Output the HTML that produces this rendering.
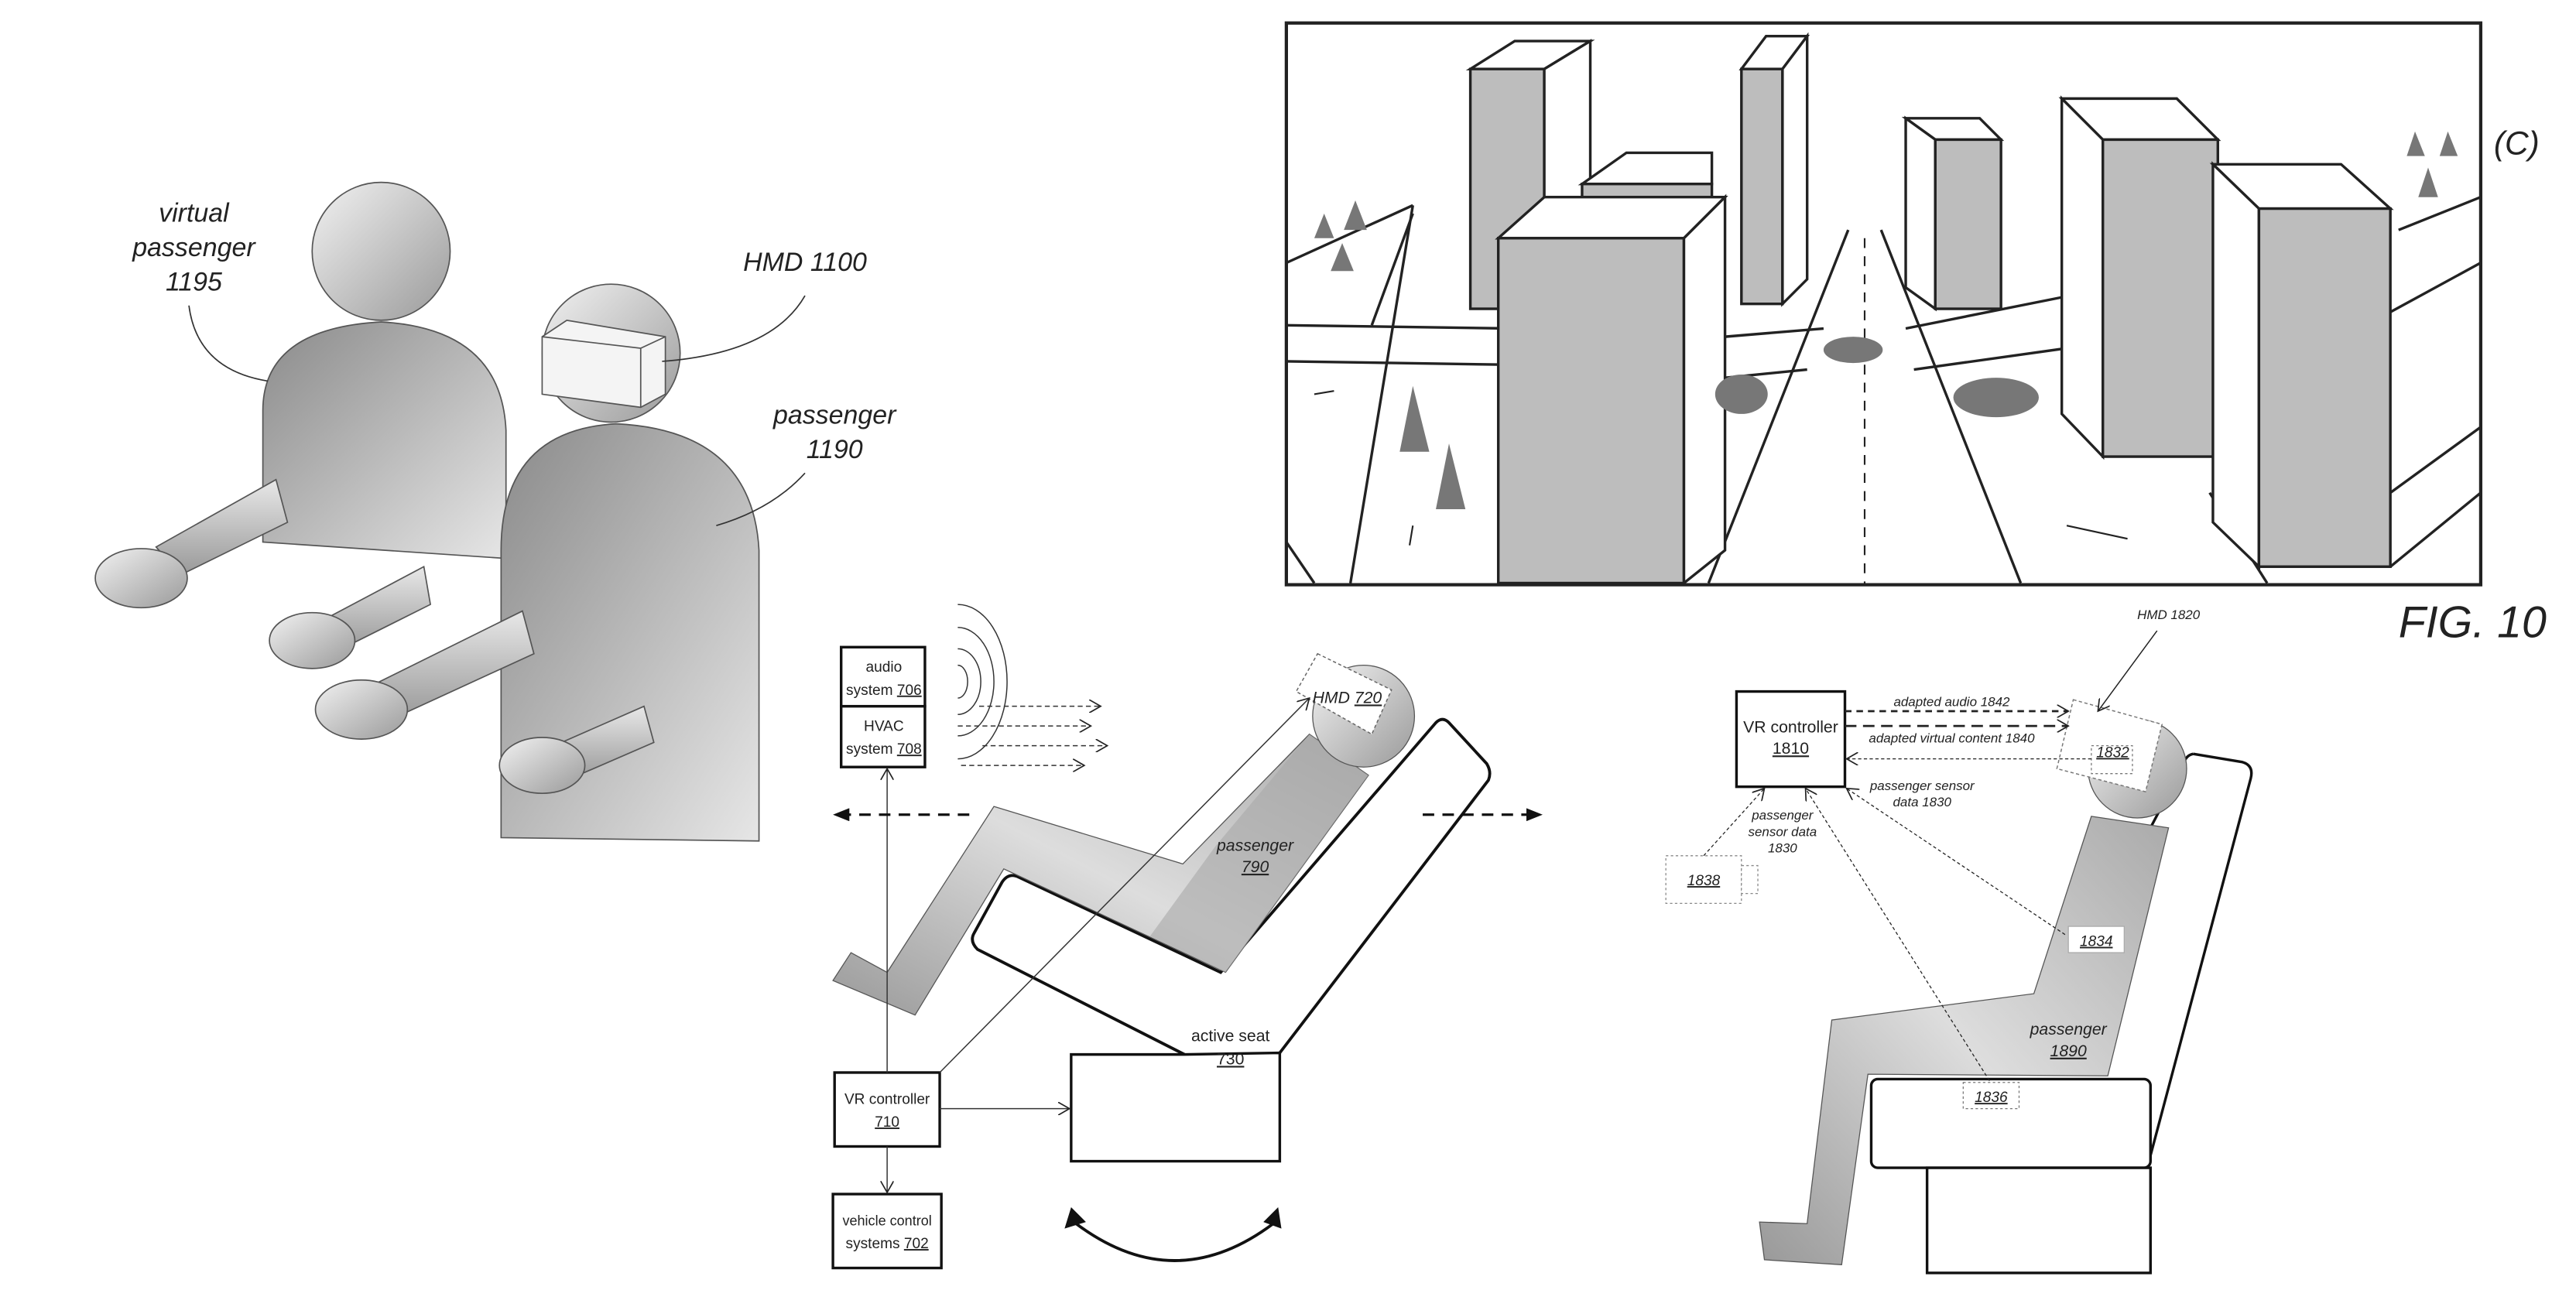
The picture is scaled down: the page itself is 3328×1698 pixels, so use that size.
<!DOCTYPE html>
<html><head><meta charset="utf-8"><style>
html,body{margin:0;padding:0;background:#fff;}
svg{display:block;}
text{font-family:"Liberation Sans",sans-serif;fill:#222;}
.it{font-style:italic;}
</style></head><body>
<svg width="3328" height="1698" viewBox="0 0 1568 800" xmlns="http://www.w3.org/2000/svg">
<defs>
<linearGradient id="gb" x1="0" y1="0" x2="1" y2="1"><stop offset="0" stop-color="#8a8a8a"/><stop offset="1" stop-color="#e6e6e6"/></linearGradient>
<linearGradient id="gh" x1="0" y1="0" x2="1" y2="1"><stop offset="0" stop-color="#f2f2f2"/><stop offset="1" stop-color="#9a9a9a"/></linearGradient>
<linearGradient id="ga" x1="0" y1="0" x2="0" y2="1"><stop offset="0" stop-color="#e8e8e8"/><stop offset="1" stop-color="#999"/></linearGradient>
<linearGradient id="gp" x1="0" y1="1" x2="1" y2="0"><stop offset="0" stop-color="#999"/><stop offset="0.5" stop-color="#ddd"/><stop offset="1" stop-color="#aaa"/></linearGradient>
<marker id="ao" markerWidth="8" markerHeight="8" refX="7" refY="4" orient="auto" markerUnits="userSpaceOnUse"><path d="M0,0 L7,4 L0,8" fill="none" stroke="#222" stroke-width="0.8"/></marker>
<marker id="af" markerWidth="10" markerHeight="8" refX="9" refY="4" orient="auto" markerUnits="userSpaceOnUse"><path d="M0,0 L10,4 L0,8z" fill="#111"/></marker>
</defs>

<!-- LEFT FIGURE -->
<g stroke="#555" stroke-width="0.8">
<path d="M160,330 L160,250 Q160,200 232,196 Q305,200 308,262 L308,340 Z" fill="url(#gb)"/>
<circle cx="232" cy="153" r="42" fill="url(#gh)"/>
<path d="M168,292 L95,333 L110,350 L175,318 Z" fill="url(#ga)"/>
<ellipse cx="86" cy="352" rx="28" ry="18" fill="url(#gh)"/>
<path d="M258,345 L192,380 L206,396 L262,368 Z" fill="url(#ga)"/>
<ellipse cx="190" cy="390" rx="26" ry="17" fill="url(#gh)"/>
<path d="M305,510 L305,335 Q305,262 375,258 Q458,262 462,335 L462,512 Z" fill="url(#gb)"/>
<circle cx="372" cy="215" r="42" fill="url(#gh)"/>
<path d="M330,205 L345,195 L405,205 L405,240 L390,248 L330,240 Z" fill="#f4f4f4"/>
<path d="M330,205 L390,212 L390,248 M390,212 L405,205" fill="none"/>
<path d="M318,372 L225,418 L238,438 L325,398 Z" fill="url(#ga)"/>
<ellipse cx="220" cy="432" rx="28" ry="18" fill="url(#gh)"/>
<path d="M392,430 L335,455 L345,475 L398,452 Z" fill="url(#ga)"/>
<ellipse cx="330" cy="466" rx="26" ry="17" fill="url(#gh)"/>
</g>
<g class="it" font-size="16" text-anchor="middle">
<text x="118" y="135">virtual</text><text x="118" y="156">passenger</text><text x="118" y="177">1195</text>
<text x="490" y="165">HMD 1100</text>
<text x="508" y="258">passenger</text><text x="508" y="279">1190</text>
</g>
<g fill="none" stroke="#333" stroke-width="0.8">
<path d="M115,186 Q120,225 163,232"/>
<path d="M490,180 Q470,215 403,220"/>
<path d="M490,288 Q470,310 436,320"/>
</g>

<!-- CITY -->
<rect x="783" y="14" width="727" height="342" fill="#fff" stroke="#222" stroke-width="2"/>
<g stroke="#222" stroke-width="1.6" fill="none">
<path d="M1040,355 L1125,140"/><path d="M1230,355 L1145,140"/>
<path d="M1135,145 L1135,355" stroke-dasharray="6,5" stroke-width="1"/>
<path d="M822,355 L860,125"/><path d="M783,160 L860,125"/><path d="M835,198 L860,130"/>
<path d="M783,198 L920,200"/><path d="M783,220 L915,222"/><path d="M1050,205 L1110,200"/><path d="M1050,230 L1100,225"/>
<path d="M800,355 L783,330"/>
<path d="M1160,200 L1260,180"/><path d="M1165,225 L1258,212"/>
<path d="M1455,190 L1510,160"/><path d="M1460,140 L1510,120"/>
<path d="M1510,260 L1455,300"/><path d="M1455,345 L1510,300"/>
<path d="M1345,300 L1380,355"/>
<path d="M1258,320 L1295,328" stroke-width="1"/><path d="M860,320 L858,332" stroke-width="1"/><path d="M800,240 L812,238" stroke-width="1"/>
</g>
<g stroke="#222" stroke-width="1.6">
<path d="M895,42 L922,25 L968,25 L940,42 Z" fill="#fff"/><rect x="895" y="42" width="45" height="146" fill="#bdbdbd"/><path d="M940,42 L968,25 L968,170 L940,188 Z" fill="#fff"/>
<path d="M1060,42 L1075,22 L1100,22 L1085,42 Z" fill="#fff"/><rect x="1060" y="42" width="25" height="143" fill="#bdbdbd"/><path d="M1085,42 L1100,22 L1100,170 L1085,185 Z" fill="#fff"/>
<path d="M963,112 L990,93 L1042,93 L1042,112 Z" fill="#fff"/><rect x="963" y="112" width="79" height="40" fill="#bdbdbd"/>
<path d="M912,145 L940,120 L1050,120 L1025,145 Z" fill="#fff"/><rect x="912" y="145" width="113" height="210" fill="#bdbdbd"/><path d="M1025,145 L1050,120 L1050,335 L1025,355 Z" fill="#fff"/>
<path d="M1160,72 L1205,72 L1218,85 L1178,85 Z" fill="#fff"/><path d="M1160,72 L1178,85 L1178,188 L1160,175 Z" fill="#fff"/><rect x="1178" y="85" width="40" height="103" fill="#bdbdbd"/>
<path d="M1255,60 L1325,60 L1350,85 L1280,85 Z" fill="#fff"/><path d="M1255,60 L1280,85 L1280,278 L1255,252 Z" fill="#fff"/><rect x="1280" y="85" width="70" height="193" fill="#bdbdbd"/>
<path d="M1347,100 L1425,100 L1455,127 L1375,127 Z" fill="#fff"/><path d="M1347,100 L1375,127 L1375,345 L1347,318 Z" fill="#fff"/><rect x="1375" y="127" width="80" height="218" fill="#bdbdbd"/>
</g>
<g fill="#777">
<path d="M800,145 L806,130 L812,145Z"/><path d="M818,140 L825,122 L832,140Z"/><path d="M810,165 L817,148 L824,165Z"/>
<path d="M852,275 L860,235 L870,275Z"/><path d="M874,310 L882,270 L892,310Z"/>
<ellipse cx="1128" cy="213" rx="18" ry="8"/><ellipse cx="1060" cy="240" rx="16" ry="12"/><ellipse cx="1215" cy="242" rx="26" ry="12"/>
<path d="M1465,95 L1470,80 L1476,95Z"/><path d="M1485,95 L1490,80 L1496,95Z"/><path d="M1472,120 L1478,102 L1484,120Z"/>
</g>
<text x="1518" y="94" class="it" font-size="20">(C)</text>
<text x="1460" y="388" class="it" font-size="27">FIG. 10</text>

<!-- MIDDLE DIAGRAM -->
<path d="M721,642 L595,578 Q590,573 593,568 L610,537 Q614,531 620,534 L743,592 L874,440 Q878,436 882,440 L905,465 Q908,470 906,475 L779,641" fill="none" stroke="#111" stroke-width="1.8"/>
<path d="M507,597 L518,580 L540,592 L605,491 L720,526 L797,447 L833,472 L746,592 L611,529 L557,618 Z" fill="url(#gp)" stroke="#555" stroke-width="0.6"/>
<path d="M797,447 L833,472 L746,592 L700,570 L740,515 Z" fill="#a8a8a8" opacity="0.6"/>
<circle cx="830" cy="436" r="31" fill="url(#gh)" stroke="#555" stroke-width="0.6"/>
<path d="M802,398 L847,420 L835,447 L789,421 Z" fill="#fff" stroke="#666" stroke-width="0.7" stroke-dasharray="2,1.5"/>
<text x="820" y="428" class="it" font-size="10" text-anchor="middle">HMD <tspan text-decoration="underline">720</tspan></text>
<text x="764" y="518" class="it" font-size="10" text-anchor="middle">passenger</text>
<text x="764" y="531" class="it" font-size="10" text-anchor="middle" text-decoration="underline">790</text>
<path d="M652,642 L721,642 L779,641 L779,707 L652,707 Z" fill="#fff" stroke="#111" stroke-width="1.6"/>
<text x="749" y="634" font-size="10" text-anchor="middle">active seat</text>
<text x="749" y="648" font-size="10" text-anchor="middle" text-decoration="underline">730</text>
<g fill="#fff" stroke="#111" stroke-width="1.6">
<rect x="512" y="394" width="51" height="36"/><rect x="512" y="430" width="51" height="37"/>
<rect x="508" y="653" width="64" height="45"/><rect x="507" y="727" width="66" height="45"/>
</g>
<g font-size="9" text-anchor="middle">
<text x="538" y="409">audio</text><text x="538" y="423">system <tspan text-decoration="underline">706</tspan></text>
<text x="538" y="445">HVAC</text><text x="538" y="459">system <tspan text-decoration="underline">708</tspan></text>
<text x="540" y="672">VR controller</text><text x="540" y="686" text-decoration="underline">710</text>
<text x="540" y="746" font-size="8.5">vehicle control</text><text x="540" y="760">systems <tspan text-decoration="underline">702</tspan></text>
</g>
<g fill="none" stroke="#333" stroke-width="0.7">
<path d="M583,405 A6,10 0 0 1 583,425"/><path d="M583,395 A14,20 0 0 1 583,435"/><path d="M583,382 A22,33 0 0 1 583,448"/><path d="M583,368 A30,47 0 0 1 583,462"/>
<line x1="540" y1="653" x2="540" y2="468" marker-end="url(#ao)"/>
<line x1="540" y1="698" x2="540" y2="726" marker-end="url(#ao)"/>
<line x1="572" y1="675" x2="651" y2="675" marker-end="url(#ao)"/>
<line x1="572" y1="653" x2="797" y2="425" marker-end="url(#ao)"/>
<g stroke-dasharray="3,2"><line x1="596" y1="430" x2="670" y2="430" marker-end="url(#ao)"/><line x1="583" y1="442" x2="664" y2="442" marker-end="url(#ao)"/><line x1="598" y1="454" x2="674" y2="454" marker-end="url(#ao)"/><line x1="585" y1="466" x2="660" y2="466" marker-end="url(#ao)"/></g>
</g>
<g stroke="#111" stroke-width="1.5" stroke-dasharray="7,5" fill="none">
<line x1="590" y1="496" x2="508" y2="496" marker-end="url(#af)"/>
<line x1="866" y1="496" x2="938" y2="496" marker-end="url(#af)"/>
</g>
<path d="M655,745 Q715,790 775,745" fill="none" stroke="#111" stroke-width="1.8"/>
<path d="M648,748 L652,735 L661,744Z M780,748 L778,735 L769,744Z" fill="#111"/>

<!-- RIGHT DIAGRAM -->
<path d="M1335,459 L1365,464 Q1372,466 1370,474 L1307,711" fill="none" stroke="#111" stroke-width="1.6"/>
<path d="M1335,459 Q1330,460 1329,466 L1290,540" fill="none" stroke="#111" stroke-width="1.6"/>
<rect x="1139" y="657" width="170" height="54" rx="4" fill="#fff" stroke="#111" stroke-width="1.6"/>
<rect x="1173" y="711" width="136" height="64" fill="#fff" stroke="#111" stroke-width="1.6"/>
<path d="M1273,497 L1320,504 L1283,655 L1137,654 L1121,770 L1074,767 L1071,744 L1100,745 L1115,621 L1238,605 Z" fill="url(#gp)" stroke="#555" stroke-width="0.6"/>
<circle cx="1301" cy="468" r="30" fill="url(#gh)" stroke="#555" stroke-width="0.6"/>
<path d="M1262,426 L1316,441 L1306,482 L1252,468 Z" fill="#fff" stroke="#777" stroke-width="0.7" stroke-dasharray="2,1.5"/>
<rect x="1273" y="454" width="25" height="17" fill="#fff" stroke="#777" stroke-width="0.6" stroke-dasharray="1.5,1.5"/>
<rect x="1259" y="564" width="34" height="16" fill="#fff" stroke="#aaa" stroke-width="0.6"/>
<rect x="1195" y="659" width="34" height="16" fill="#fff" stroke="#777" stroke-width="0.6" stroke-dasharray="1.5,1.5"/>
<rect x="1014" y="521" width="46" height="29" fill="#fff" stroke="#888" stroke-width="0.6" stroke-dasharray="1.5,1.5"/>
<rect x="1060" y="527" width="10" height="17" fill="#fff" stroke="#888" stroke-width="0.6" stroke-dasharray="1.5,1.5"/>
<rect x="1057" y="421" width="66" height="58" fill="#fff" stroke="#111" stroke-width="1.6"/>
<g font-size="10" text-anchor="middle">
<text x="1090" y="446">VR controller</text><text x="1090" y="459" text-decoration="underline">1810</text>
</g>
<g class="it" font-size="8" text-anchor="middle">
<text x="1286" y="461" font-size="9" text-decoration="underline">1832</text>
<text x="1276" y="576" font-size="9" text-decoration="underline">1834</text>
<text x="1212" y="671" font-size="9" text-decoration="underline">1836</text>
<text x="1037" y="539" font-size="9" text-decoration="underline">1838</text>
<text x="1320" y="377">HMD 1820</text>
<text x="1188" y="430">adapted audio 1842</text>
<text x="1188" y="452">adapted virtual content 1840</text>
<text x="1170" y="481">passenger sensor</text><text x="1170" y="491">data 1830</text>
<text x="1085" y="499">passenger</text><text x="1085" y="509">sensor data</text><text x="1085" y="519">1830</text>
<text x="1259" y="630" font-size="10">passenger</text><text x="1259" y="643" font-size="10" text-decoration="underline">1890</text>
</g>
<g fill="none" stroke="#222">
<line x1="1123" y1="433" x2="1259" y2="433" stroke-width="1.3" stroke-dasharray="4,3" marker-end="url(#ao)"/>
<line x1="1123" y1="442" x2="1259" y2="442" stroke-width="1.3" stroke-dasharray="7,4" marker-end="url(#ao)"/>
<g stroke-width="0.6" stroke-dasharray="2,1.5">
<line x1="1273" y1="462" x2="1124" y2="462" marker-end="url(#ao)"/>
<line x1="1037" y1="521" x2="1074" y2="480" marker-end="url(#ao)"/>
<line x1="1211" y1="658" x2="1099" y2="480" marker-end="url(#ao)"/>
<line x1="1257" y1="569" x2="1124" y2="480" marker-end="url(#ao)"/>
</g>
<line x1="1313" y1="384" x2="1277" y2="433" stroke-width="0.7" marker-end="url(#ao)"/>
</g>
</svg>
</body></html>
